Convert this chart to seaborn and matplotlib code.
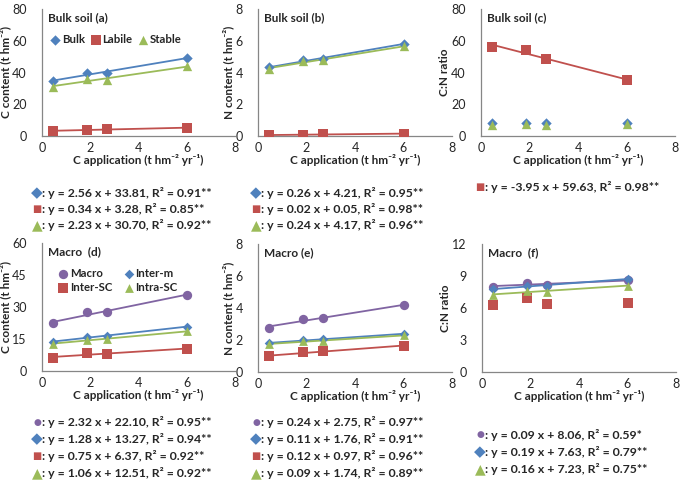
import numpy as np
import seaborn as sns
import matplotlib.pyplot as plt

# === 1. Datos ===
c_app = [0.44, 1.86, 2.69, 6.02]

# Bulk soil
bulk_c = [34.6, 39.6, 39.7, 49.2]
labile_c = [3.2, 3.8, 4.2, 5.2]
stable_c = [31.0, 35.9, 35.3, 43.8]

bulk_n = [4.32, 4.79, 4.83, 5.82]
labile_n = [0.06, 0.08, 0.10, 0.15]
stable_n = [4.22, 4.72, 4.80, 5.64]

bulk_cn = [8.1, 8.2, 8.0, 8.4]
labile_cn = [56.3, 54.0, 48.3, 35.2]
stable_cn = [7.2, 7.4, 7.2, 7.7]

# Macroagregados
macro_c = [22.3, 27.5, 27.7, 35.7]
interm_c = [13.6, 16.0, 16.4, 20.8]
intersc_c = [6.1, 8.3, 8.1, 10.4]
intrasc_c = [12.7, 14.7, 14.9, 18.6]

macro_n = [2.77, 3.31, 3.37, 4.18]
interm_n = [1.81, 1.98, 2.04, 2.39]
intersc_n = [0.98, 1.23, 1.29, 1.64]
intrasc_n = [1.75, 1.91, 1.95, 2.29]

macro_cn = [8.01, 8.30, 8.20, 8.58]
interm_cn = [7.76, 8.07, 8.10, 8.73]
intersc_cn = [6.28, 6.94, 6.35, 6.44]
intrasc_cn = [7.23, 7.60, 7.54, 8.10]

# Ecuaciones de las rectas
eq_a = ["y = 2.56 x + 33.81, R² = 0.91**",
        "y = 0.34 x + 3.28, R² = 0.85**",
        "y = 2.23 x + 30.70, R² = 0.92**"]
eq_b = ["y = 0.26 x + 4.21, R² = 0.95**",
        "y = 0.02 x + 0.05, R² = 0.98**",
        "y = 0.24 x + 4.17, R² = 0.96**"]
eq_c = ["y = -3.95 x + 59.63, R² = 0.98**"]
eq_d = ["y = 2.32 x + 22.10, R² = 0.95**",
        "y = 1.28 x + 13.27, R² = 0.94**",
        "y = 0.75 x + 6.37, R² = 0.92**",
        "y = 1.06 x + 12.51, R² = 0.92**"]
eq_e = ["y = 0.24 x + 2.75, R² = 0.97**",
        "y = 0.11 x + 1.76, R² = 0.91**",
        "y = 0.12 x + 0.97, R² = 0.96**",
        "y = 0.09 x + 1.74, R² = 0.89**"]
eq_f = ["y = 0.09 x + 8.06, R² = 0.59*",
        "y = 0.19 x + 7.63, R² = 0.79**",
        "y = 0.16 x + 7.23, R² = 0.75**"]

# === 2. Estilo ===
BLUE, RED, GREEN, PURPLE = '#4F81BD', '#C0504D', '#9BBB59', '#8064A2'
sns.set_style('white')
plt.rcParams['font.family'] = ['Lato', 'DejaVu Sans']

W, H = 685, 482
fig = plt.figure(figsize=(W / 100, H / 100), dpi=100)


def add_ax(l, t, r, b):
    return fig.add_axes([l / W, 1 - b / H, (r - l) / W, (b - t) / H])


def style_ax(ax, ymax, ystep, ylabel, title):
    ax.set_xlim(0, 8)
    ax.set_ylim(0, ymax)
    ax.set_xticks(range(0, 9, 2))
    ax.set_yticks(np.arange(0, ymax + 0.01, ystep))
    ax.set_yticklabels([f'{v:g}' for v in np.arange(0, ymax + 0.01, ystep)])
    sns.despine(ax=ax)
    for s in ['left', 'bottom']:
        ax.spines[s].set_color('#868686')
        ax.spines[s].set_linewidth(0.9)
    ax.tick_params(axis='y', direction='out', length=4, width=0.9, color='#868686',
                   pad=7, labelsize=9)
    ax.tick_params(axis='x', direction='out', length=0, pad=4.5, labelsize=9)
    ax.set_ylabel(ylabel, fontsize=8.5, fontweight='bold', labelpad=1)
    ax.set_xlabel('C application (t hm⁻² yr⁻¹)', fontsize=8.5, fontweight='bold',
                  labelpad=0)
    ax.text(0.03, 0.93, title, transform=ax.transAxes, fontsize=8.5,
            fontweight='bold', va='center')


def serie(ax, y, color, marker, size, label=None, fit=True):
    sns.regplot(x=c_app, y=y, ax=ax, ci=None, fit_reg=fit, color=color,
                marker=marker, label=label, truncate=True,
                scatter_kws={'s': size, 'alpha': 1, 'zorder': 3, 'linewidths': 0},
                line_kws={'lw': 1.3, 'zorder': 2})


def ecuaciones(x, ys, glyphs, eqs):
    for y, (g, col, gs), eq in zip(ys, glyphs, eqs):
        fig.text(x / W, 1 - y / H, g, color=col, fontsize=gs, va='center',
                 ha='center', family='DejaVu Sans')
        fig.text((x + 5) / W, 1 - y / H, ': ' + eq, fontsize=8.8,
                 fontweight='bold', va='center')


G_DIAM = ('◆', BLUE, 11)
G_SQ = ('■', RED, 7)
G_TRI = ('▲', GREEN, 10)
G_CIR = ('●', PURPLE, 6.5)

leg_kw = dict(loc='upper left', frameon=False, handletextpad=0.05,
              borderaxespad=0.2, handlelength=1.1,
              prop={'weight': 'bold', 'size': 8.2})

# === 3. Bulk soil ===
ax_a = add_ax(42, 9, 235, 136)
serie(ax_a, bulk_c, BLUE, 'D', 28, 'Bulk')
serie(ax_a, labile_c, RED, 's', 42, 'Labile')
serie(ax_a, stable_c, GREEN, '^', 45, 'Stable')
style_ax(ax_a, 80, 20, 'C content (t hm⁻²)', 'Bulk soil (a)')
ax_a.legend(bbox_to_anchor=(0.0, 0.86), ncol=3, columnspacing=0.4, **leg_kw)

ax_b = add_ax(258, 9, 452, 136)
serie(ax_b, bulk_n, BLUE, 'D', 28)
serie(ax_b, labile_n, RED, 's', 42)
serie(ax_b, stable_n, GREEN, '^', 45)
style_ax(ax_b, 8, 2, 'N content (t hm⁻²)', 'Bulk soil (b)')

ax_c = add_ax(481, 9, 675, 136)
serie(ax_c, bulk_cn, BLUE, 'D', 28, fit=False)
serie(ax_c, labile_cn, RED, 's', 42)
serie(ax_c, stable_cn, GREEN, '^', 45, fit=False)
style_ax(ax_c, 80, 20, 'C:N ratio', 'Bulk soil (c)')

# === 4. Macroagregados ===
ax_d = add_ax(42, 243, 235, 371)
serie(ax_d, macro_c, PURPLE, 'o', 45, 'Macro')
serie(ax_d, intersc_c, RED, 's', 42, 'Inter-SC')
serie(ax_d, interm_c, BLUE, 'D', 24, 'Inter-m')
serie(ax_d, intrasc_c, GREEN, '^', 40, 'Intra-SC')
style_ax(ax_d, 60, 15, 'C content (t hm⁻²)', 'Macro  (d)')
ax_d.legend(bbox_to_anchor=(0.04, 0.86), ncol=2, columnspacing=0.9,
            labelspacing=0.25, **leg_kw)

ax_e = add_ax(258, 244, 452, 372)
serie(ax_e, macro_n, PURPLE, 'o', 45)
serie(ax_e, interm_n, BLUE, 'D', 24)
serie(ax_e, intersc_n, RED, 's', 42)
serie(ax_e, intrasc_n, GREEN, '^', 40)
style_ax(ax_e, 8, 2, 'N content (t hm⁻²)', 'Macro (e)')

ax_f = add_ax(482, 244, 676, 372)
serie(ax_f, macro_cn, PURPLE, 'o', 45)
serie(ax_f, interm_cn, BLUE, 'D', 24)
serie(ax_f, intersc_cn, RED, 's', 42, fit=False)
serie(ax_f, intrasc_cn, GREEN, '^', 40)
style_ax(ax_f, 12, 3, 'C:N ratio', 'Macro  (f)')

# === 5. Ecuaciones debajo de cada panel ===
ecuaciones(37, [193, 209, 225], [G_DIAM, G_SQ, G_TRI], eq_a)
ecuaciones(256, [193, 209, 225], [G_DIAM, G_SQ, G_TRI], eq_b)
ecuaciones(480, [187], [G_SQ], eq_c)
ecuaciones(37, [422, 439, 456, 473], [G_CIR, G_DIAM, G_SQ, G_TRI], eq_d)
ecuaciones(256, [422, 439, 456, 473], [G_CIR, G_DIAM, G_SQ, G_TRI], eq_e)
ecuaciones(480, [435, 452, 469], [G_CIR, G_DIAM, G_TRI], eq_f)

fig.savefig('out.png', dpi=100)
